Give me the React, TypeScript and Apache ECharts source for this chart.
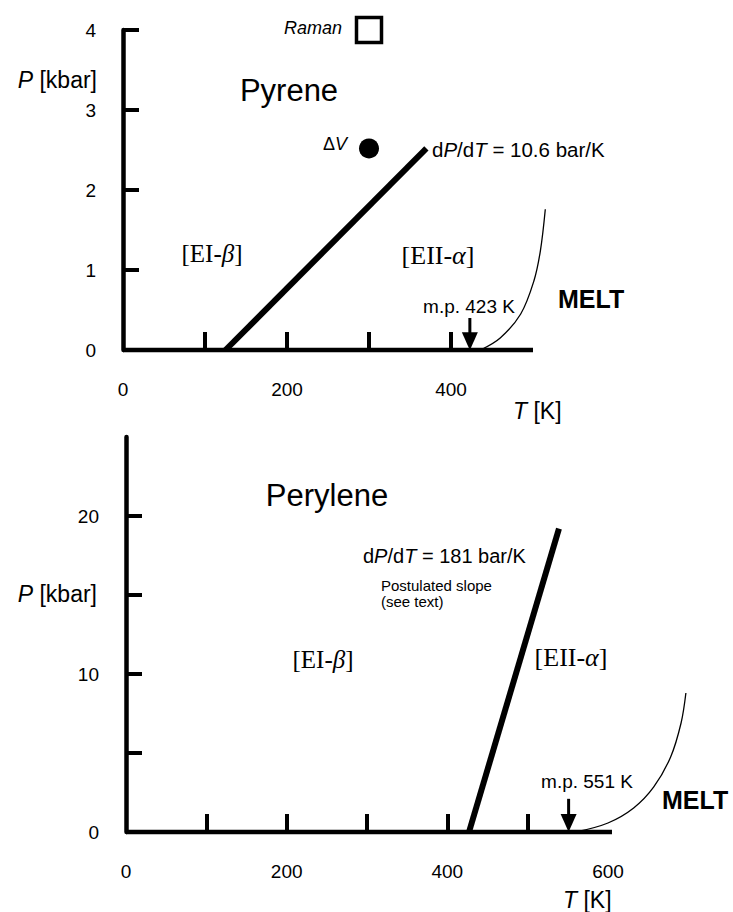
import React, { useEffect, useRef } from "react";
import * as echarts from "echarts";

// ---------- data ----------
// Pyrene panel (T in K, P in kbar)
const pyreneTTicks = [100, 200, 300, 400];
const pyreneTLabels = [0, 200, 400];
const pyreneTAxisRange = [0, 500];
const pyrenePTicks = [1, 2, 3, 4];
const pyrenePLabels = [0, 1, 2, 3, 4];
const pyrenePhaseT = [125, 370];
const pyrenePhaseP = [0, 2.52];
const pyreneMeltT = [436, 460, 485, 501, 509, 515];
const pyreneMeltP = [0, 0.15, 0.45, 0.86, 1.24, 1.76];
const pyreneRaman = [300, 4.0];
const pyreneDeltaV = [300, 2.52];
const pyreneMp = 423;

// Perylene panel
const peryleneTTicks = [100, 200, 300, 400, 500];
const peryleneTLabels = [0, 200, 400, 600];
const peryleneTAxisRange = [0, 605];
const perylenePTicks = [5, 10, 15, 20];
const perylenePLabels = [0, 10, 20];
const perylenePhaseT = [427, 539];
const perylenePhaseP = [0, 19.2];
const peryleneMeltT = [560, 600, 632, 657, 678, 691, 697];
const peryleneMeltP = [0, 0.57, 1.52, 2.85, 4.75, 6.9, 8.8];
const peryleneMp = 551;

const SANS = "Liberation Sans, Arial, Helvetica, sans-serif";
const SERIF = "Liberation Serif, Times New Roman, serif";

function zip(a: number[], b: number[]) {
  return a.map((v, i) => [v, b[i]]);
}

function xAxis(gridIndex: number, max: number, ticks: number[], labels: number[]) {
  return {
    type: "value",
    gridIndex,
    min: 0,
    max,
    axisLine: { show: false },
    axisTick: {
      show: true,
      inside: true,
      length: 18,
      customValues: ticks,
      lineStyle: { color: "#000", width: 4 },
    },
    axisLabel: {
      show: true,
      customValues: labels,
      margin: 30,
      color: "#000",
      fontSize: 19,
      fontFamily: SANS,
    },
    splitLine: { show: false },
  };
}

function yAxis(gridIndex: number, max: number, ticks: number[], labels: number[]) {
  return {
    type: "value",
    gridIndex,
    min: 0,
    max,
    axisLine: { show: true, onZero: false, lineStyle: { color: "#000", width: 4.5 } },
    axisTick: {
      show: true,
      inside: true,
      length: 16,
      customValues: ticks,
      lineStyle: { color: "#000", width: 4 },
    },
    axisLabel: {
      show: true,
      customValues: labels,
      margin: 27,
      color: "#000",
      fontSize: 19,
      fontFamily: SANS,
      padding: [10, 0, 0, 0],
    },
    splitLine: { show: false },
  };
}

function txt(
  x: number,
  y: number,
  text: string,
  opts: { size?: number; align?: string; family?: string; weight?: string; italic?: boolean } = {}
) {
  const size = opts.size ?? 18;
  const family = opts.family ?? SANS;
  const weight = opts.weight ?? "normal";
  return {
    type: "text",
    x,
    y,
    style: {
      text,
      fill: "#000",
      fontSize: size,
      fontFamily: family,
      fontWeight: weight,
      fontStyle: opts.italic ? "italic" : "normal",
      textAlign: opts.align ?? "left",
      textVerticalAlign: "middle",
      rich: {
        i: { fontStyle: "italic", fontSize: size, fontFamily: family, fontWeight: weight, fill: "#000" },
      },
    },
  };
}

function arrowSeries(xi: number, t: number, top: number, head: number) {
  return {
    type: "line",
    xAxisIndex: xi,
    yAxisIndex: xi,
    clip: false,
    z: 5,
    lineStyle: { color: "#000", width: 3 },
    itemStyle: { color: "#000", opacity: 1 },
    showSymbol: true,
    data: [
      { value: [t, top], symbol: "none" },
      { value: [t, head], symbol: "triangle", symbolSize: [16, 18], symbolRotate: 180 },
    ],
  };
}

function axisLineSeries(xi: number, range: number[]) {
  return {
    type: "line",
    xAxisIndex: xi,
    yAxisIndex: xi,
    showSymbol: false,
    clip: false,
    z: 4,
    lineStyle: { color: "#000", width: 4.5, cap: "butt" },
    data: range.map((t) => [t, 0]),
  };
}

export default function App() {
  const ref = useRef<HTMLDivElement>(null);
  useEffect(() => {
    document.body.style.margin = "0";
    if (!ref.current) return;
    const chart = echarts.init(ref.current, undefined, { renderer: "svg" });
    const option = {
      animation: false,
      backgroundColor: "#fff",
      grid: [
        { left: 123, top: 30, width: 426.4, height: 320 },
        { left: 126, top: 437, width: 562.3, height: 395 },
      ],
      xAxis: [
        xAxis(0, 520, pyreneTTicks, pyreneTLabels),
        xAxis(1, 700, peryleneTTicks, peryleneTLabels),
      ],
      yAxis: [
        yAxis(0, 4, pyrenePTicks, pyrenePLabels),
        yAxis(1, 25, perylenePTicks, perylenePLabels),
      ],
      series: [
        axisLineSeries(0, pyreneTAxisRange),
        {
          type: "line",
          xAxisIndex: 0,
          yAxisIndex: 0,
          showSymbol: false,
          lineStyle: { color: "#000", width: 6 },
          data: zip(pyrenePhaseT, pyrenePhaseP),
        },
        {
          type: "line",
          xAxisIndex: 0,
          yAxisIndex: 0,
          showSymbol: false,
          smooth: 0.35,
          clip: false,
          lineStyle: { color: "#000", width: 1.3 },
          data: zip(pyreneMeltT, pyreneMeltP),
        },
        {
          type: "scatter",
          xAxisIndex: 0,
          yAxisIndex: 0,
          clip: false,
          symbol: "rect",
          symbolSize: 25,
          itemStyle: { color: "#fff", borderColor: "#000", borderWidth: 3.5, opacity: 1 },
          data: [pyreneRaman],
        },
        {
          type: "scatter",
          xAxisIndex: 0,
          yAxisIndex: 0,
          clip: false,
          symbol: "circle",
          symbolSize: 20,
          itemStyle: { color: "#000", opacity: 1 },
          data: [pyreneDeltaV],
        },
        arrowSeries(0, pyreneMp, 0.4, 0.11),
        axisLineSeries(1, peryleneTAxisRange),
        {
          type: "line",
          xAxisIndex: 1,
          yAxisIndex: 1,
          showSymbol: false,
          lineStyle: { color: "#000", width: 6 },
          data: zip(perylenePhaseT, perylenePhaseP),
        },
        {
          type: "line",
          xAxisIndex: 1,
          yAxisIndex: 1,
          showSymbol: false,
          smooth: 0.35,
          clip: false,
          lineStyle: { color: "#000", width: 1.3 },
          data: zip(peryleneMeltT, peryleneMeltP),
        },
        arrowSeries(1, peryleneMp, 2.1, 0.57),
      ],
      graphic: [
        // Pyrene panel
        txt(342, 28, "Raman", { italic: true, align: "right", size: 18 }),
        txt(289, 90, "Pyrene", { align: "center", size: 31 }),
        txt(347, 144, "Δ{i|V}", { align: "right", size: 18 }),
        txt(432, 149, "d{i|P}/d{i|T} = 10.6 bar/K", { size: 20.5 }),
        txt(212, 253, "[EI-{i|β}]", { align: "center", family: SERIF, size: 25 }),
        txt(438, 255, "[EII-{i|α}]", { align: "center", family: SERIF, size: 26 }),
        txt(469, 306, "m.p. 423 K", { align: "center", size: 19 }),
        txt(558, 299, "MELT", { weight: "bold", size: 25 }),
        txt(97, 80, "{i|P} [kbar]", { align: "right", size: 23 }),
        txt(513, 411, "{i|T} [K]", { size: 23 }),
        // Perylene panel
        txt(327, 495, "Perylene", { align: "center", size: 31 }),
        txt(363, 556, "d{i|P}/d{i|T} = 181 bar/K", { size: 20 }),
        txt(381, 585, "Postulated slope", { size: 15 }),
        txt(381, 601, "(see text)", { size: 15 }),
        txt(323, 659, "[EI-{i|β}]", { align: "center", family: SERIF, size: 25 }),
        txt(571, 657, "[EII-{i|α}]", { align: "center", family: SERIF, size: 26 }),
        txt(587, 781, "m.p. 551 K", { align: "center", size: 19 }),
        txt(662, 800, "MELT", { weight: "bold", size: 25 }),
        txt(97, 594, "{i|P} [kbar]", { align: "right", size: 23 }),
        txt(563, 900, "{i|T} [K]", { size: 23 }),
      ],
    };
    chart.setOption(option as any);
    return () => chart.dispose();
  }, []);
  return <div ref={ref} style={{ width: 733, height: 912 }} />;
}
